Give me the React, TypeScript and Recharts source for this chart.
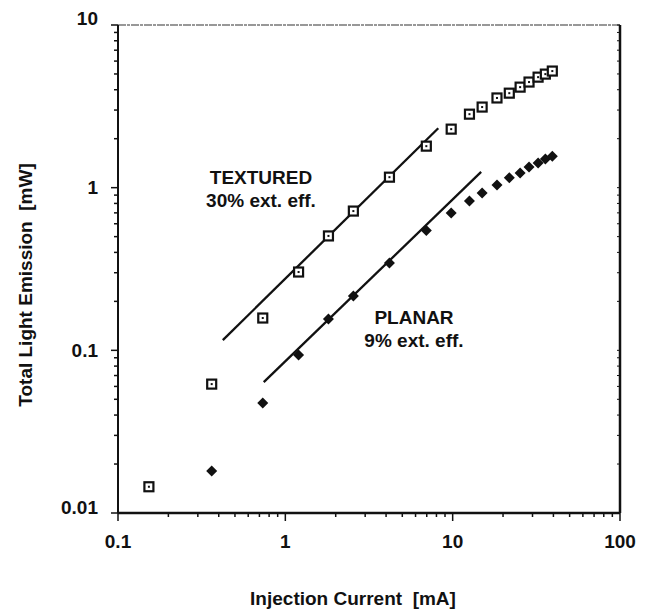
import { ScatterChart, Scatter, XAxis, YAxis, ReferenceLine } from 'recharts'

// injection current [mA] (shared by both series)
const current = [0.153, 0.363, 0.733, 1.2, 1.81, 2.55, 4.19, 6.96, 9.8, 12.6, 15.0, 18.4, 21.8, 25.3, 28.6, 32.4, 35.8, 39.4]
// total light emission [mW]
const textured = [0.0145, 0.062, 0.158, 0.303, 0.505, 0.718, 1.16, 1.8, 2.29, 2.83, 3.13, 3.56, 3.81, 4.15, 4.46, 4.78, 4.99, 5.21]
const planar = [null, 0.0181, 0.0474, 0.0935, 0.156, 0.216, 0.344, 0.545, 0.698, 0.827, 0.927, 1.04, 1.15, 1.23, 1.34, 1.42, 1.5, 1.56]

// fitted lines, end points
const texturedFitX = [0.423, 8.2]
const texturedFitY = [0.1155, 2.32]
const planarFitX = [0.743, 14.8]
const planarFitY = [0.0638, 1.25]

const xMajor = [0.1, 1, 10, 100]
const xMinor = [0.2, 0.3, 0.4, 0.5, 0.6, 0.7, 0.8, 0.9, 2, 3, 4, 5, 6, 7, 8, 9, 20, 30, 40, 50, 60, 70, 80, 90]
const yMajor = [0.01, 0.1, 1, 10]
const yMinor = [0.02, 0.03, 0.04, 0.05, 0.06, 0.07, 0.08, 0.09, 0.2, 0.3, 0.4, 0.5, 0.6, 0.7, 0.8, 0.9, 2, 3, 4, 5, 6, 7, 8, 9]

const texturedData = current.map((x, i) => ({ x, y: textured[i] }))
const planarData = current.map((x, i) => ({ x, y: planar[i] })).filter(d => d.y != null)
const texturedFit = texturedFitX.map((x, i) => ({ x, y: texturedFitY[i] }))
const planarFit = planarFitX.map((x, i) => ({ x, y: planarFitY[i] }))

const INK = '#111'
const FONT = '"Liberation Sans", Arial, Helvetica, sans-serif'

const fmt = (v: number) => String(v)

function XTick(props: any) {
  const { x, y, payload } = props
  const major = xMajor.includes(payload.value)
  return (
    <g>
      <line x1={x} x2={x} y1={y} y2={y + (major ? 8 : 4)} stroke={INK} strokeWidth={1.5} />
      {major && (
        <text x={x} y={y + 28} textAnchor="middle" dominantBaseline="central" fontFamily={FONT} fontWeight="bold" fontSize={19} fill={INK}>
          {fmt(payload.value)}
        </text>
      )}
    </g>
  )
}

const yLabelShift: Record<string, number> = { '10': -7, '0.01': -6 }

function YTick(props: any) {
  const { x, y, payload } = props
  const major = yMajor.includes(payload.value)
  return (
    <g>
      <line x1={x} x2={x - (major ? 7 : 4)} y1={y} y2={y} stroke={INK} strokeWidth={1.5} />
      {major && (
        <text x={x - 20} y={y + (yLabelShift[fmt(payload.value)] || 0)} textAnchor="end" dominantBaseline="central" fontFamily={FONT} fontWeight="bold" fontSize={19} fill={INK}>
          {fmt(payload.value)}
        </text>
      )}
    </g>
  )
}

function RTick(props: any) {
  const { x, y } = props
  return <line x1={x} x2={x - 3} y1={y} y2={y} stroke={INK} strokeWidth={1} />
}

function Square(props: any) {
  const { cx, cy } = props
  return (
    <g>
      <rect x={cx - 4.5} y={cy - 4.5} width={9} height={9} fill="#fff" stroke={INK} strokeWidth={2.2} />
      <rect x={cx - 1} y={cy - 1} width={2} height={2} fill={INK} />
    </g>
  )
}

function Diamond(props: any) {
  const { cx, cy } = props
  return <polygon points={`${cx},${cy - 5.5} ${cx + 5.5},${cy} ${cx},${cy + 5.5} ${cx - 5.5},${cy}`} fill={INK} />
}

const NoDot = () => <g />

const titleStyle = { whiteSpace: 'pre' as const }

export default function App() {
  return (
    <div style={{ position: 'absolute', left: 0, top: 0, width: 652, height: 615, background: '#fff' }}>
      <ScatterChart width={652} height={615} margin={{ top: 25, right: 31, bottom: 0, left: 0 }}>
        <XAxis
          type="number"
          dataKey="x"
          scale="log"
          domain={[0.1, 100]}
          allowDataOverflow
          ticks={[...xMajor, ...xMinor]}
          interval={0}
          tick={<XTick />}
          tickLine={false}
          tickSize={0}
          tickMargin={0}
          axisLine={{ stroke: INK, strokeWidth: 2.5 }}
          height={102}
        />
        <YAxis
          type="number"
          dataKey="y"
          scale="log"
          domain={[0.01, 10]}
          allowDataOverflow
          ticks={[...yMajor, ...yMinor]}
          interval={0}
          tick={<YTick />}
          tickLine={false}
          tickSize={0}
          tickMargin={0}
          axisLine={{ stroke: INK, strokeWidth: 2 }}
          width={118}
        />
        <YAxis
          yAxisId="r"
          orientation="right"
          type="number"
          scale="log"
          domain={[0.01, 10]}
          allowDataOverflow
          ticks={[...yMajor, ...yMinor]}
          interval={0}
          tick={<RTick />}
          tickLine={false}
          tickSize={0}
          tickMargin={0}
          axisLine={{ stroke: INK, strokeWidth: 2.5 }}
          width={1}
        />
        <ReferenceLine y={10} stroke="#333" strokeWidth={1.2} strokeDasharray="8 1 3 1" />
        <Scatter data={texturedFit} line={{ stroke: INK, strokeWidth: 2.3 }} shape={NoDot} isAnimationActive={false} />
        <Scatter data={planarFit} line={{ stroke: INK, strokeWidth: 2.3 }} shape={NoDot} isAnimationActive={false} />
        <Scatter data={texturedData} shape={Square} isAnimationActive={false} />
        <Scatter data={planarData} shape={Diamond} isAnimationActive={false} />
        <text x={261} y={177} textAnchor="middle" dominantBaseline="central" fontFamily={FONT} fontWeight="bold" fontSize={19} fill={INK}>TEXTURED</text>
        <text x={261} y={200} textAnchor="middle" dominantBaseline="central" fontFamily={FONT} fontWeight="bold" fontSize={19} fill={INK}>30% ext. eff.</text>
        <text x={414} y={317} textAnchor="middle" dominantBaseline="central" fontFamily={FONT} fontWeight="bold" fontSize={19} fill={INK}>PLANAR</text>
        <text x={414} y={340} textAnchor="middle" dominantBaseline="central" fontFamily={FONT} fontWeight="bold" fontSize={19} fill={INK}>9% ext. eff.</text>
        <text x={353} y={598} style={titleStyle} textAnchor="middle" dominantBaseline="central" fontFamily={FONT} fontWeight="bold" fontSize={19} fill={INK}>Injection Current  [mA]</text>
        <text x={25} y={285} style={titleStyle} textAnchor="middle" dominantBaseline="central" fontFamily={FONT} fontWeight="bold" fontSize={19} fill={INK} transform="rotate(-90 25 285)">Total Light Emission  [mW]</text>
      </ScatterChart>
    </div>
  )
}
